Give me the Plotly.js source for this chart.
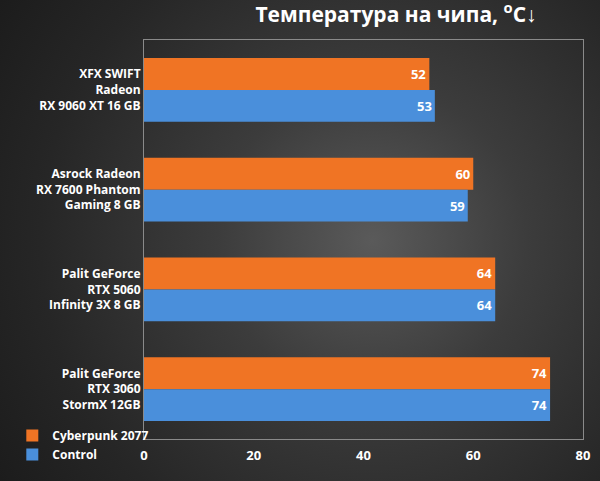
<!DOCTYPE html>
<html><head><meta charset="utf-8">
<script src="https://cdn.plot.ly/plotly-3.0.1.min.js"></script>
<style>
html,body{margin:0;padding:0;}
#c{width:600px;height:481px;background:radial-gradient(circle at 62% 50%, #5a5a5a 0%, #3c3c3c 35%, #262626 75%, #1c1c1c 100%);}
</style></head><body>
<div id="c"></div>
<script>
const categories = ["XFX SWIFT<br>Radeon<br>RX 9060 XT 16 GB","Asrock Radeon<br>RX 7600 Phantom<br>Gaming 8 GB","Palit GeForce<br>RTX 5060<br>Infinity 3X 8 GB","Palit GeForce<br>RTX 3060<br>StormX 12GB"];
const cyberpunk = [52,60,64,74];
const control = [53,59,64,74];
const xticks = [0,20,40,60,80];
const font = {family:"Open Sans, Noto Sans, sans-serif", color:"#ffffff"};
function tr(name, vals, color){
  return {type:"bar", orientation:"h", name:name, y:categories, x:vals, text:vals.map(String),
    textposition:"inside", insidetextanchor:"end", textfont:{family:font.family,color:"#fff",size:13,weight:"bold"},
    marker:{color:color}, cliponaxis:false, hoverinfo:"skip"};
}
Plotly.newPlot("c",[tr("Cyberpunk 2077",cyberpunk,"#f07424"), tr("Control",control,"#4a8fdb")],{
  width:600,height:481,paper_bgcolor:"rgba(0,0,0,0)",plot_bgcolor:"rgba(0,0,0,0)",
  margin:{l:130,r:17,t:40,b:24},
  barmode:"group",bargap:0.36,bargroupgap:0,
  title:{text:"<b>Температура на чипа, <sup>о</sup>С↓</b>",font:{family:font.family,color:"#fff",size:21},x:0.66,xanchor:"center",y:0.985,yanchor:"top"},
  xaxis:{range:[0,80],tickvals:xticks,showgrid:false,zeroline:false,showline:true,mirror:true,linecolor:"#8a8a8a",linewidth:1,
    tickfont:{family:font.family,color:"#fff",size:13,weight:"bold"},ticks:"outside",ticklen:4,tickcolor:"rgba(0,0,0,0)"},
  yaxis:{autorange:"reversed",showgrid:false,showline:true,mirror:true,linecolor:"#8a8a8a",ticks:"",
    tickfont:{family:font.family,color:"#fff",size:12,weight:"bold"}},
  showlegend:true,
  legend:{x:-0.3,xanchor:"left",y:0.045,yanchor:"top",font:{family:font.family,color:"#fff",size:12,weight:"bold"},bgcolor:"rgba(0,0,0,0)",traceorder:"normal",itemwidth:30,tracegroupgap:2}
},{staticPlot:true});
</script></body></html>
